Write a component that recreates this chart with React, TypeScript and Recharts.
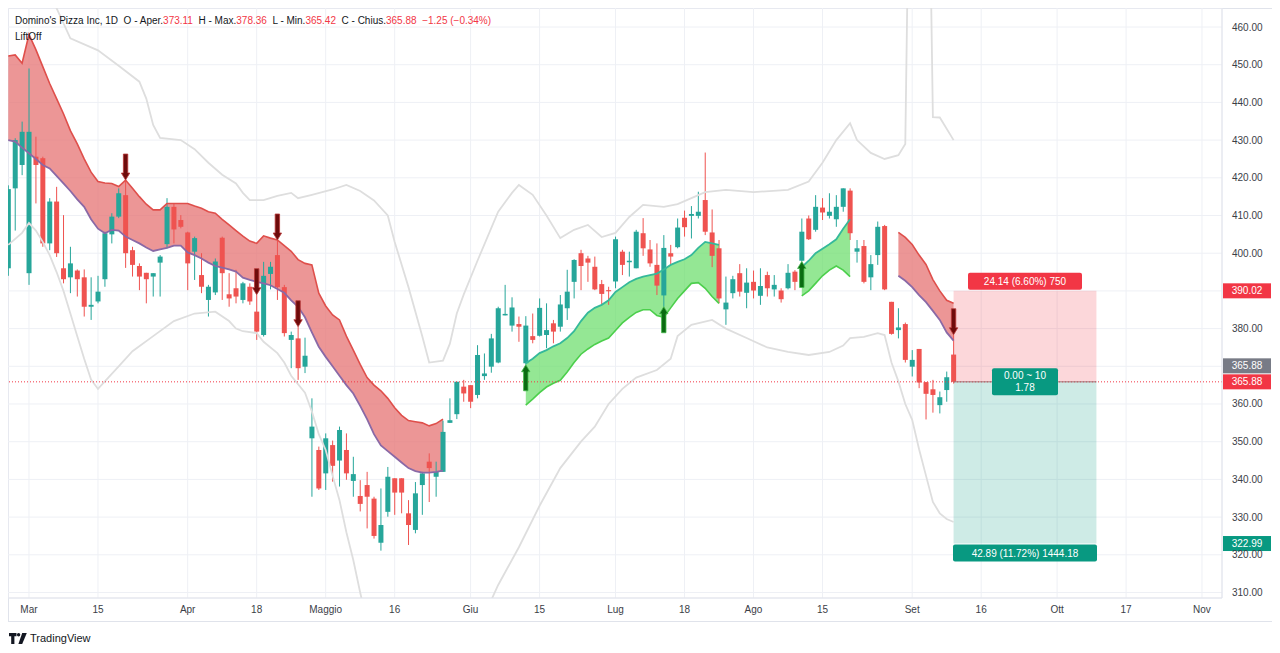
import React from 'react';
import {
  ComposedChart, Bar, Line, Area, Scatter, XAxis, YAxis, CartesianGrid,
  ReferenceLine, ReferenceArea,
} from 'recharts';

// ---------- DATA ----------
const FIRST_INDEX = -3; // bar index of first candle (Mar 1 = 0)

const opens = [
  396, 417.2, 423.4, 394.7, 425.6, 425.2, 402.6, 413.7, 396, 393.6,
  395.4, 393.6, 385.8, 387.2, 393.1, 405, 409.7, 415.4, 400.8, 396.6,
  394.8, 393.8, 397.5, 402.4, 412.3, 408.8, 405.5, 400.4, 394.2, 387.6,
  389.6, 404.1, 389.1, 390.7, 387.6, 391.1, 384.5, 378.3, 394.5, 399.5,
  391, 377, 377.4, 369.9, 350.9, 347.8, 341.6, 349.1, 345, 347.8,
  339.6, 335.6, 338.5, 334.9, 323.2, 331.4, 340.3, 340.3, 331, 326.6,
  338.5, 344.7, 340.7, 342, 355, 357.3, 364.6, 365, 362.4, 367.4,
  369.9, 371, 383.5, 380.8, 381.2, 370.8, 378, 378.1, 378.3, 381.4,
  380.5, 385.4, 392.4, 400, 398.6, 396.4, 391.8, 390.2, 392.5, 400.4,
  397.6, 396, 405.3, 401, 396.9, 388.8, 400, 401.6, 409.4, 409.9,
  409.9, 414.1, 405.5, 401.3, 385.1, 389.4, 394.7, 389.5, 392.4, 388.7,
  394.2, 390.4, 390.1, 390.7, 395.1, 398, 409.2, 406.2, 412.1, 409.9,
  409, 412.3, 416.6, 400.4, 401.9, 393.6, 399.5, 407.2, 387.1, 379.6,
  381.2, 369.9, 374.6, 365.8, 363.9, 359.7, 363.7, 373.11,
];
const highs = [
  418, 430.5, 434.9, 449, 430.9, 425.6, 414.6, 417.6, 410.1, 401.7,
  395.7, 395.7, 393.6, 394, 405.7, 410.6, 417.2, 419.4, 401.7, 397.3,
  394.8, 394.7, 399.5, 414.6, 413.2, 410.1, 405.7, 404.4, 400, 391.6,
  398.6, 404.4, 394.7, 395.6, 392.4, 392, 389, 397.7, 397.7, 403.5,
  391.6, 379.2, 380.5, 377.6, 361.5, 348.7, 352.2, 350.3, 354, 352.2,
  346, 339.8, 342, 335.4, 337.6, 343.3, 340.3, 340.3, 334.5, 339.3,
  342, 346.9, 344.7, 355.6, 361.5, 365.9, 366.4, 365, 375.6, 373.4,
  378.6, 385.8, 391.6, 388.3, 383.2, 383.3, 384, 388, 386.7, 382.3,
  388.9, 395.6, 398.4, 400.9, 399.3, 399.1, 392.9, 391.1, 404.4, 400.9,
  400.4, 406.2, 409.3, 403.5, 402.6, 404.8, 402.2, 409.2, 411.3, 412.5,
  416.3, 426.7, 411.6, 403.5, 393.8, 394, 397.1, 396, 395.4, 396,
  395.1, 394.2, 390.7, 397.1, 395.5, 409.2, 410, 415.4, 414.6, 415.9,
  415.4, 417.2, 417.2, 403.5, 403.5, 399.5, 408.4, 407.5, 387.1, 385.4,
  381.6, 374.3, 374.6, 365.8, 366.4, 363.3, 368.6, 378.36,
];
const lows = [
  394, 406, 420.7, 391.6, 413.2, 401.7, 400.8, 399, 392, 389.4,
  388.5, 383.2, 382.3, 386.7, 391.1, 402.6, 409.3, 396.1, 393.8, 390.2,
  386.7, 388.5, 388.5, 401.3, 402.6, 406.6, 390.2, 392.9, 389.4, 383.2,
  388.9, 387.6, 385.8, 386.7, 386.7, 386.3, 377, 377.9, 390.4, 387.6,
  377.9, 369.5, 366.4, 368.2, 335.4, 337.2, 337.2, 339.4, 338.1, 339.9,
  335.4, 331.5, 327, 324.3, 321.1, 330.1, 330.6, 331, 322.6, 325.7,
  330.6, 334, 335.4, 342, 355, 356, 360.6, 358.9, 361.5, 366.4,
  368.3, 370.8, 383.5, 379.2, 376.5, 370.4, 376.1, 377.9, 374.8, 376.1,
  379.2, 382.3, 388, 390.2, 392.4, 390.2, 386.3, 386.3, 390.7, 394.2,
  393.8, 396, 399.3, 396.4, 388.9, 385.8, 396.9, 401.3, 404.4, 403.9,
  409.2, 404.8, 396.3, 386.7, 381, 388, 388.5, 385.4, 388, 386.3,
  388.5, 388.5, 386.9, 390.4, 390.2, 397.8, 403.5, 405.7, 408.8, 409.2,
  407, 411, 403.5, 397.5, 392, 390.2, 396.9, 390.2, 378.4, 377.4,
  371, 367.3, 364.2, 355.9, 357.7, 357.5, 360.6, 365.42,
];
const closes = [
  417, 430, 432.2, 432.2, 423.4, 402.6, 413.7, 400, 393.1, 397.3,
  393.1, 385.8, 386.3, 389.8, 405.3, 409.7, 415.9, 400, 396.9, 393.8,
  393.1, 394.7, 399.1, 412.3, 406.3, 407, 397.3, 404, 391.1, 391.1,
  397.8, 394.7, 388, 388.5, 392, 387.2, 379.2, 394, 396.4, 391,
  378.8, 378.3, 369.5, 372.8, 354, 337.6, 350.9, 343.6, 353.1, 341.6,
  341.4, 333.5, 335.4, 325, 327.9, 340.7, 336.5, 336.5, 327.9, 336.3,
  341.6, 343, 342, 352.6, 355.7, 365.9, 362.8, 360.6, 373, 368.1,
  377.4, 385.4, 383.9, 385.6, 380.5, 380.8, 377, 385.5, 379.6, 379.2,
  386.4, 389.8, 398.2, 396.6, 397.5, 390.4, 389.2, 389.9, 403.7, 396.9,
  398, 405.7, 401.3, 397.3, 391.4, 401.4, 399.1, 406.8, 406.9, 410.4,
  411, 405.7, 399.3, 388, 386.9, 393.1, 389.8, 392.2, 390.1, 391.3,
  390.7, 391.6, 387.8, 394.8, 392.4, 405.7, 403.7, 412.3, 410.8, 411,
  412.3, 417.2, 405.3, 401.3, 392.4, 397.1, 407, 390.4, 378.6, 380.3,
  371.7, 371.7, 365.7, 362.7, 362.4, 361.8, 367.1, 365.88,
];

// Cloud bands (start index, upper edge, lower edge)
const bearCloud1Start = -3;
const bearCloud1Top = [
  452.3, 452.6, 450.4, 458, 454, 449.5, 445, 441, 437, 432.5,
  429, 425, 421.5, 419, 418.6, 418.5, 417.7, 419.4, 417.2, 415,
  413, 411.5, 411.5, 413.2, 413.2, 413.2, 413.2, 412.5, 411.9, 411,
  410.6, 409, 407.5, 406, 404.5, 403.2, 402.6, 404.6, 404, 403.5,
  402, 400.5, 398.3, 397.3, 396.9, 389.4, 386, 383.6, 382.3, 378,
  374.3, 370.5, 367, 365, 363.5, 361.5, 359, 357, 355.6, 355.3,
  355, 354.2, 354.8, 356,
];
const bearCloud1Bot = [
  430, 429.6, 428, 426.5, 425, 423.4, 422.5, 420.5, 418.5, 416.5,
  414.3, 412.3, 409, 406.5, 405.3, 406.2, 406, 404.4, 403.5, 402.6,
  401.5, 400.6, 401, 401.4, 402, 402, 400.2, 399.5, 398.6, 397.5,
  396.6, 396.2, 395.7, 395.1, 393.5, 392.9, 392.4, 392, 391.5, 390.5,
  389.5, 387.5, 385.8, 383, 379, 375.2, 372.5, 370, 367.5, 365,
  362.8, 359.5, 356, 352, 349, 347.5, 346, 344.5, 343, 342.2,
  341.8, 341.8, 342, 342.3,
];
const bullCloud1Start = 72;
const bullCloud1Top = [
  370.8, 372, 373.5, 374.3, 375.3, 376.1, 377.5, 379.3, 382, 384.2,
  385.5, 386.3, 387.5, 389.7, 391, 392.3, 393.2, 393.8, 394.2, 394.6,
  395.7, 396.9, 397.7, 398.4, 399.5, 401.4, 403, 402.6, 402.2,
];
const bullCloud1Bot = [
  359.7, 361.3, 363, 364.5, 365.5, 366.3, 368.5, 371, 373.2, 374.6,
  375.8, 376.7, 377.5, 379.5, 381.5, 383, 384.3, 385, 385, 383.5,
  383, 385.5, 388, 390, 392, 392.2, 390.7, 388.5, 386.7,
];
const bullCloud2Start = 112;
const bullCloud2Top = [396.3, 398, 400, 401.2, 402.4, 403.7, 406.5, 409];
const bullCloud2Bot = [388.7, 390, 392, 394, 395.5, 396.6, 395.5, 393.8];
const bearCloud2Start = 126;
const bearCloud2Top = [405.5, 404.2, 402.3, 399.5, 397, 393, 390, 387.5, 386.7];
const bearCloud2Bot = [394, 392.7, 391, 388.9, 387, 384.7, 382.3, 379, 376.8];

// Envelope lines (bar index, price)
const upperEnvelope: [number, number][] = [
  [3, 472], [4, 465], [6, 457], [10, 453.8], [13, 449.7], [16, 445.5], [17, 441],
  [18, 434], [19, 430.6], [22, 430], [24, 427.6], [26, 424], [28, 420.8], [30, 418.5],
  [31, 416], [32, 414.1], [34, 414.1], [36, 415.2], [38, 416], [39, 414.6], [41, 415.5],
  [44, 416.9], [46, 418.1], [48, 416.5], [50, 414], [52, 410], [53, 403], [55, 391],
  [57, 378], [58, 371], [60, 371.5], [61, 376], [62, 384], [63, 389], [65, 398],
  [68, 411], [70, 416], [71, 418.1], [73, 415.5], [75, 410], [77, 404], [79, 406.2],
  [81, 407.5], [83, 404.3], [85, 405.4], [87, 409.6], [89, 412.8], [92, 412.3],
  [94, 413], [96, 414.6], [98, 416.2], [101, 416.8], [105, 416.2], [110, 416.8],
  [113, 419], [115, 424], [117, 430], [119, 434.5], [120, 430], [122, 426.6],
  [124, 425], [126, 426], [127, 429], [128, 560], [130, 560], [131, 436.1],
  [132, 436], [134, 430],
];
const lowerEnvelope: [number, number][] = [
  [-3, 402.2], [-1, 405.4], [0, 408], [1, 406], [2, 403], [3, 399.5], [4, 395],
  [5, 390], [6, 384], [7, 378], [8, 372], [9, 366.5], [10, 364], [11, 366], [13, 370],
  [15, 374], [18, 378], [21, 382], [24, 384], [27, 384.5], [29, 382], [30, 380],
  [31, 379.3], [33, 378.8], [34, 376.5], [36, 373.5], [37, 371], [38, 367.5], [40, 363],
  [41, 358], [42, 352], [43, 347.8], [44, 341], [45, 334.5], [46, 326], [47, 318.6],
  [48, 310], [49, 302], [52, 295], [58, 290], [63, 295], [66, 304], [68, 312],
  [71, 322], [74, 333], [77, 343], [80, 350], [82, 354], [84, 360], [86, 364],
  [88, 367], [91, 369], [93, 372], [94, 378], [96, 381], [99, 382.3], [101, 380],
  [104, 377.5], [107, 375], [110, 373.8], [113, 373], [116, 373.8], [118, 375.5],
  [119, 377.5], [121, 377.8], [123, 378.8], [124, 378.3], [125, 371], [126, 366],
  [127, 360], [128, 355.8], [129, 348], [130, 341], [131, 334], [132, 331],
  [133, 329.5], [134, 328.7],
];

// Signals (bar indices)
const sellSignals = [14, 33, 36, 39, 134];
const buySignals = [72, 92, 112];

// Position tool
const entryPrice = 365.88;
const stopPrice = 390.02;
const targetPrice = 322.99;
const positionStart = 134;
const positionEnd = 154.7;

// Axis ticks
const xTickIndices = [0, 10, 23, 33, 43, 53, 64, 74, 85, 95, 105, 115, 128, 138, 149, 159, 170];
const xTickLabels = ['Mar', '15', 'Apr', '18', 'Maggio', '16', 'Giu', '15', 'Lug', '18', 'Ago', '15', 'Set', '16', 'Ott', '17', 'Nov'];
const priceTicks = [310, 320, 330, 340, 350, 360, 370, 380, 390, 400, 410, 420, 430, 440, 450, 460];
const hiddenPriceTicks = [370, 390];

// ---------- BUILD ROWS ----------
const rows: any[] = opens.map((o, k) => ({
  i: FIRST_INDEX + k,
  o,
  h: highs[k],
  l: lows[k],
  c: closes[k],
  range: [lows[k], highs[k]],
}));
const rowAt = (i: number) => {
  let r = rows.find((x) => x.i === i);
  if (!r) {
    r = { i };
    rows.push(r);
  }
  return r;
};
const attachBand = (name: string, start: number, tops: number[], bots: number[]) => {
  tops.forEach((t, k) => {
    const r = rowAt(start + k);
    r[name] = [bots[k], t];
    r[name + 'Top'] = t;
    r[name + 'Bot'] = bots[k];
  });
};
attachBand('bear1', bearCloud1Start, bearCloud1Top, bearCloud1Bot);
attachBand('bull1', bullCloud1Start, bullCloud1Top, bullCloud1Bot);
attachBand('bull2', bullCloud2Start, bullCloud2Top, bullCloud2Bot);
attachBand('bear2', bearCloud2Start, bearCloud2Top, bearCloud2Bot);
upperEnvelope.forEach(([i, v]) => { rowAt(i).upper = v; });
lowerEnvelope.forEach(([i, v]) => { rowAt(i).lower = v; });
rows.sort((a, b) => a.i - b.i);

const sellData = sellSignals.map((i) => ({ i, tip: highs[i - FIRST_INDEX] }));
const buyData = buySignals.map((i) => ({ i, tip: lows[i - FIRST_INDEX] }));

// ---------- STYLE ----------
const FONT = '"Liberation Sans", Arial, sans-serif';
const UP = '#26a69a';
const DOWN = '#ef5350';
const TEXT = '#131722';
const AXIS_TEXT = '#3b3e47';

const CHART_W = 1264;
const CHART_H = 613;

// ---------- SHAPES ----------
const Candle = (props: any) => {
  const { x, y, width, height, payload } = props;
  if (!payload || payload.o == null || x == null || y == null) return null;
  const { o, h, l, c } = payload;
  const top = Math.min(y, y + height);
  const bottom = Math.max(y, y + height);
  const span = h - l;
  const toY = (v: number) => (span === 0 ? top : top + ((h - v) / span) * (bottom - top));
  const color = c >= o ? UP : DOWN;
  const cx = x + width / 2;
  const bt = toY(Math.max(o, c));
  const bb = toY(Math.min(o, c));
  return (
    <g>
      <line x1={cx} x2={cx} y1={top} y2={bottom} stroke={color} strokeWidth={1} />
      <rect x={x} y={bt} width={width} height={Math.max(1, bb - bt)} fill={color} />
    </g>
  );
};

const SellArrow = (props: any) => {
  const { cx, cy } = props;
  if (cx == null || cy == null) return null;
  const d = `M${cx - 2.2},${cy - 26} L${cx + 2.2},${cy - 26} L${cx + 2.2},${cy - 7} L${cx + 4.2},${cy - 7} L${cx},${cy} L${cx - 4.2},${cy - 7} L${cx - 2.2},${cy - 7} Z`;
  return <path d={d} fill="#6e0b0b" stroke="#b73737" strokeWidth={0.8} />;
};

const BuyArrow = (props: any) => {
  const { cx, cy } = props;
  if (cx == null || cy == null) return null;
  const d = `M${cx - 2.2},${cy + 26} L${cx + 2.2},${cy + 26} L${cx + 2.2},${cy + 7} L${cx + 4.2},${cy + 7} L${cx},${cy} L${cx - 4.2},${cy + 7} L${cx - 2.2},${cy + 7} Z`;
  return <path d={d} fill="#0b6b12" stroke="#43b649" strokeWidth={0.8} />;
};

const PriceTick = (p: any) => {
  const v = p.payload?.value;
  if (v == null || hiddenPriceTicks.includes(v)) return null;
  return (
    <text x={p.x} y={p.y} dy={3.5} textAnchor="start" fontSize={10} fill={AXIS_TEXT} fontFamily={FONT}>
      {v.toFixed(2)}
    </text>
  );
};

const axisBadge = (text: string, color: string, shift: number) => (p: any) => {
  const vb = p.viewBox || {};
  const x0 = vb.x + vb.width + 1;
  const yc = vb.y + shift;
  return (
    <g>
      <rect x={x0} y={yc - 7.5} width={48} height={15} fill={color} />
      <text x={x0 + 24} y={yc} dy={3.5} textAnchor="middle" fontSize={10} fill="#ffffff" fontFamily={FONT}>
        {text}
      </text>
    </g>
  );
};

const riskLabel = (p: any) => {
  const { x, y, width } = p.viewBox || {};
  const cx = x + width / 2;
  return (
    <g>
      <rect x={cx - 57} y={y - 18} width={114} height={17} rx={2} fill="#f23645" />
      <text x={cx} y={y - 9.5} dy={3.5} textAnchor="middle" fontSize={10} fill="#fff" fontFamily={FONT}>
        24.14 (6.60%) 750
      </text>
    </g>
  );
};
const rewardLabel = (p: any) => {
  const { x, y, width, height } = p.viewBox || {};
  const cx = x + width / 2;
  const yb = y + height;
  return (
    <g>
      <rect x={cx - 72} y={yb + 1} width={144} height={17} rx={2} fill="#089981" />
      <text x={cx} y={yb + 9.5} dy={3.5} textAnchor="middle" fontSize={10} fill="#fff" fontFamily={FONT}>
        42.89 (11.72%) 1444.18
      </text>
    </g>
  );
};
const entryLabel = (p: any) => {
  const { x, y, width } = p.viewBox || {};
  const cx = x + width / 2;
  return (
    <g>
      <rect x={cx - 33} y={y - 13.5} width={66} height={27} rx={2} fill="#089981" />
      <text x={cx} y={y - 6} dy={3.5} textAnchor="middle" fontSize={10} fill="#fff" fontFamily={FONT}>
        0.00 ~ 10
      </text>
      <text x={cx} y={y + 6} dy={3.5} textAnchor="middle" fontSize={10} fill="#fff" fontFamily={FONT}>
        1.78
      </text>
    </g>
  );
};

const xLabel = (v: number) => {
  const k = xTickIndices.indexOf(v);
  return k >= 0 ? xTickLabels[k] : '';
};

const TVLogo = () => (
  <svg width={18} height={11} viewBox="0 0 18 11" style={{ display: 'block' }}>
    <path d="M0 0h7.5v3.2H5.4V11H2.2V3.2H0z" fill={TEXT} />
    <circle cx={9.6} cy={1.7} r={1.7} fill={TEXT} />
    <path d="M13.2 0h4.6l-4.6 11H9.4z" fill={TEXT} />
  </svg>
);

export default function App() {
  const red = '#f23645';
  return (
    <div style={{ position: 'relative', width: CHART_W, height: 645, fontFamily: FONT }}>
      <div
        style={{
          position: 'absolute', left: 0, top: 0, width: CHART_W + 1, height: CHART_H + 1,
          border: '1px solid #e0e3eb', boxSizing: 'border-box', pointerEvents: 'none',
        }}
      />
      <div style={{ position: 'absolute', left: 0, top: 0 }}>
        <ComposedChart
          width={CHART_W}
          height={CHART_H}
          data={rows}
          margin={{ top: 0, right: 0, bottom: 0, left: 0 }}
        >
          <CartesianGrid stroke="#eef0f5" strokeWidth={1} />
          <XAxis
            dataKey="i"
            type="number"
            domain={[-3.04, 172.9]}
            allowDataOverflow
            ticks={xTickIndices}
            interval={0}
            tickFormatter={xLabel}
            tickLine={false}
            tickSize={0}
            tickMargin={8}
            height={23}
            axisLine={{ stroke: '#e0e3eb' }}
            tick={{ fontSize: 10, fill: AXIS_TEXT, fontFamily: FONT }}
          />
          <YAxis
            orientation="right"
            type="number"
            domain={[308.54, 465.04]}
            allowDataOverflow
            ticks={priceTicks}
            interval={0}
            width={50}
            tickLine={false}
            tickSize={0}
            tickMargin={10}
            axisLine={{ stroke: '#e0e3eb' }}
            tick={<PriceTick />}
          />

          <Area dataKey="bear1" stroke="none" fill="#e57373" fillOpacity={0.75} isAnimationActive={false} />
          <Area dataKey="bear2" stroke="none" fill="#e57373" fillOpacity={0.75} isAnimationActive={false} />
          <Area dataKey="bull1" stroke="none" fill="#66dd66" fillOpacity={0.7} isAnimationActive={false} />
          <Area dataKey="bull2" stroke="none" fill="#66dd66" fillOpacity={0.7} isAnimationActive={false} />
          <Line dataKey="bear1Top" stroke="#df4f4b" strokeWidth={1.6} dot={false} isAnimationActive={false} />
          <Line dataKey="bear1Bot" stroke="#8a69a6" strokeWidth={1.8} dot={false} isAnimationActive={false} />
          <Line dataKey="bear2Top" stroke="#df4f4b" strokeWidth={1.6} dot={false} isAnimationActive={false} />
          <Line dataKey="bear2Bot" stroke="#8a69a6" strokeWidth={1.8} dot={false} isAnimationActive={false} />
          <Line dataKey="bull1Top" stroke="#35b99a" strokeWidth={1.8} dot={false} isAnimationActive={false} />
          <Line dataKey="bull1Bot" stroke="#4ccf4c" strokeWidth={1.6} dot={false} isAnimationActive={false} />
          <Line dataKey="bull2Top" stroke="#35b99a" strokeWidth={1.8} dot={false} isAnimationActive={false} />
          <Line dataKey="bull2Bot" stroke="#4ccf4c" strokeWidth={1.6} dot={false} isAnimationActive={false} />

          <Line dataKey="upper" stroke="#dedede" strokeWidth={1.8} dot={false} connectNulls isAnimationActive={false} />
          <Line dataKey="lower" stroke="#dedede" strokeWidth={1.8} dot={false} connectNulls isAnimationActive={false} />

          <ReferenceArea
            x1={positionStart} x2={positionEnd} y1={entryPrice} y2={stopPrice}
            fill="#f23645" fillOpacity={0.2} stroke="none" label={riskLabel}
          />
          <ReferenceArea
            x1={positionStart} x2={positionEnd} y1={targetPrice} y2={entryPrice}
            fill="#089981" fillOpacity={0.2} stroke="none" label={rewardLabel}
          />

          <Bar dataKey="range" shape={<Candle />} barSize={5} isAnimationActive={false} />

          <ReferenceLine y={entryPrice} stroke={red} strokeDasharray="1 2" strokeWidth={1} label={axisBadge('365.88', red, 0)} />
          <ReferenceLine y={entryPrice} stroke="none" label={axisBadge('365.88', '#787b86', -16)} />
          <ReferenceLine y={stopPrice} stroke="none" label={axisBadge('390.02', red, 0)} />
          <ReferenceLine y={targetPrice} stroke="none" label={axisBadge('322.99', '#089981', 0)} />
          <ReferenceLine
            segment={[{ x: positionStart, y: entryPrice }, { x: positionEnd, y: entryPrice }]}
            stroke="#9e7378" strokeWidth={1} label={entryLabel}
          />

          <Scatter data={sellData} dataKey="tip" shape={<SellArrow />} isAnimationActive={false} />
          <Scatter data={buyData} dataKey="tip" shape={<BuyArrow />} isAnimationActive={false} />
        </ComposedChart>
      </div>

      <div style={{ position: 'absolute', left: 7, top: 6, fontSize: 10, lineHeight: '14px', color: TEXT, whiteSpace: 'pre' }}>
        <div>
          {"Domino's Pizza Inc, 1D  O - Aper."}<span style={{ color: red }}>373.11</span>
          {'  H - Max.'}<span style={{ color: red }}>378.36</span>
          {'  L - Min.'}<span style={{ color: red }}>365.42</span>
          {'  C - Chius.'}<span style={{ color: red }}>365.88</span>
          <span style={{ color: red }}>{'  −1.25 (−0.34%)'}</span>
        </div>
        <div style={{ marginTop: 2 }}>LiftOff</div>
      </div>

      <div style={{ position: 'absolute', left: 1, top: 624, display: 'flex', alignItems: 'center', gap: 3 }}>
        <TVLogo />
        <span style={{ fontSize: 11, color: TEXT }}>TradingView</span>
      </div>
    </div>
  );
}
